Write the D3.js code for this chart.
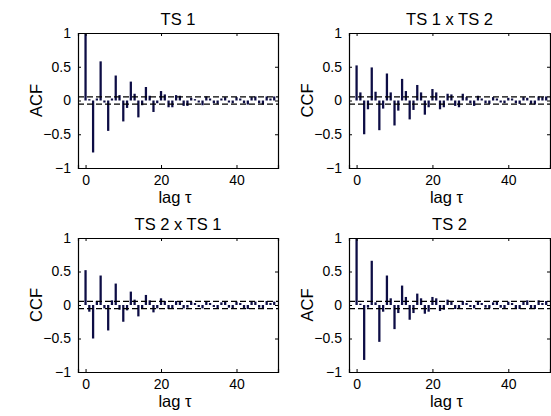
<!DOCTYPE html>
<html>
<head>
<meta charset="utf-8">
<script src="https://cdn.jsdelivr.net/npm/d3@7"></script>
<style>
  body { margin: 0; background: #fff; }
  text { font-family: "Liberation Sans", Arial, Helvetica, sans-serif; fill: #000; }
</style>
</head>
<body>
<script>
// lags 0..50
const lags = d3.range(0, 51)

const ts1Acf = [1.00, 0.02, -0.77, 0.03, 0.58, -0.03, -0.45, 0.03, 0.37, 0.08,
    -0.31, -0.11, 0.28, 0.10, -0.25, -0.07, 0.20, 0.07, -0.17, -0.04,
    0.14, 0.09, -0.10, -0.10, 0.08, 0.07, -0.08, -0.08, 0.04, 0.02,
    -0.03, -0.07, 0.06, 0.03, -0.04, -0.05, 0.03, 0.05, -0.03, -0.04,
    0.05, 0.03, -0.04, -0.06, 0.05, 0.06, -0.04, -0.06, 0.06, 0.03, 0.06]

const ts1xTs2 = [0.52, 0.12, -0.50, -0.13, 0.49, 0.13, -0.44, -0.12, 0.40, 0.12,
    -0.37, -0.15, 0.32, 0.14, -0.28, -0.14, 0.23, 0.12, -0.21, -0.10,
    0.17, 0.12, -0.13, -0.10, 0.10, 0.09, -0.08, -0.10, 0.10, 0.05,
    -0.04, -0.08, 0.07, 0.03, -0.04, -0.05, 0.05, 0.03, -0.03, -0.04,
    0.04, 0.03, -0.04, -0.05, 0.05, 0.04, -0.05, -0.06, 0.06, 0.05, 0.06]

const ts2xTs1 = [0.52, -0.10, -0.50, 0.06, 0.44, -0.05, -0.38, 0.07, 0.32, -0.07,
    -0.25, -0.08, 0.20, 0.08, -0.17, -0.06, 0.15, 0.07, -0.11, -0.05,
    0.10, 0.06, -0.06, -0.06, 0.06, 0.05, -0.05, -0.04, 0.05, 0.03,
    -0.03, -0.05, 0.05, 0.03, -0.03, -0.05, 0.04, 0.05, -0.04, -0.05,
    0.05, 0.03, -0.05, -0.06, 0.06, 0.05, -0.04, -0.06, 0.06, 0.03, 0.05]

const ts2Acf = [1.00, 0.02, -0.82, -0.04, 0.66, 0.04, -0.55, -0.10, 0.44, 0.10,
    -0.36, -0.12, 0.29, 0.12, -0.22, -0.12, 0.17, 0.10, -0.13, -0.10,
    0.12, 0.10, -0.09, -0.07, 0.08, 0.06, -0.06, -0.05, 0.06, 0.03,
    -0.03, -0.05, 0.05, 0.03, -0.04, -0.05, 0.04, 0.05, -0.04, -0.05,
    0.05, 0.03, -0.05, -0.06, 0.06, 0.07, -0.05, -0.06, 0.07, 0.03, 0.06]

const confBound = 0.055
const titles = ['TS 1', 'TS 1 x TS 2', 'TS 2 x TS 1', 'TS 2']
const yLabels = ['ACF', 'CCF', 'CCF', 'ACF']
const series = [ts1Acf, ts1xTs2, ts2xTs1, ts2Acf]
const xTicks = [0, 20, 40]
const yTicks = [-1, -0.5, 0, 0.5, 1]

// panel layout
const boxes = [
    {x: 78, y: 33, w: 200, h: 135},
    {x: 349, y: 33, w: 201, h: 135},
    {x: 78, y: 238, w: 200, h: 134},
    {x: 349, y: 238, w: 201, h: 134}
]

const svg = d3.select('body').append('svg')
    .attr('width', 551)
    .attr('height', 416)

const fmt = d => d === 0 ? '0' : (d < 0 ? '\u2212' : '') + Math.abs(d)

boxes.forEach(function(b, i) {
    const g = svg.append('g').attr('transform', `translate(${b.x},${b.y})`)

    const x = d3.scaleLinear().domain([-2, 51]).range([0, b.w])
    const y = d3.scaleLinear().domain([-1, 1]).range([b.h, 0])
    const bw = (x(1) - x(0)) * 0.6

    g.append('rect')
        .attr('width', b.w).attr('height', b.h)
        .attr('fill', '#fff')

    g.selectAll('.bar')
        .data(lags)
        .enter()
        .append('rect')
            .attr('x', d => x(d) - bw / 2)
            .attr('y', d => y(Math.max(0, series[i][d])))
            .attr('width', bw)
            .attr('height', d => Math.abs(y(series[i][d]) - y(0)))
            .attr('fill', '#0d0d45')

    ;[confBound, -confBound].forEach(function(c) {
        g.append('line')
            .attr('x1', 0).attr('x2', b.w)
            .attr('y1', y(c)).attr('y2', y(c))
            .attr('stroke', '#000')
            .attr('stroke-width', 1.2)
            .attr('stroke-dasharray', '6,3')
    })

    // axes, ticks inward on all four sides
    const axB = d3.axisBottom(x).tickValues(xTicks).tickSize(-3).tickPadding(7).tickFormat(fmt)
    const axT = d3.axisTop(x).tickValues(xTicks).tickSize(-3).tickFormat('')
    const axL = d3.axisLeft(y).tickValues(yTicks).tickSize(-3).tickPadding(7).tickFormat(fmt)
    const axR = d3.axisRight(y).tickValues(yTicks).tickSize(-3).tickFormat('')

    g.append('g').attr('transform', `translate(0,${b.h})`).call(axB)
    g.append('g').call(axT)
    g.append('g').call(axL)
    g.append('g').attr('transform', `translate(${b.w},0)`).call(axR)

    g.selectAll('g')
        .attr('font-size', 14)
        .attr('font-family', '"Liberation Sans", Arial, sans-serif')
    g.selectAll('.domain').attr('stroke', '#000').attr('stroke-width', 1.2)
    g.selectAll('.tick line').attr('stroke', '#000')
    g.selectAll('.tick text').attr('fill', '#000')

    g.append('text')
        .attr('x', b.w / 2).attr('y', -8)
        .attr('text-anchor', 'middle')
        .style('font-size', '16.5px')
        .text(titles[i])

    g.append('text')
        .attr('x', b.w / 2 - 3).attr('y', b.h + 35)
        .attr('text-anchor', 'middle')
        .style('font-size', '16.5px')
        .text('lag \u03c4')

    g.append('text')
        .attr('transform', `translate(-36,${b.h / 2}) rotate(-90)`)
        .attr('text-anchor', 'middle')
        .style('font-size', '16.5px')
        .text(yLabels[i])
})
</script>
</body>
</html>
